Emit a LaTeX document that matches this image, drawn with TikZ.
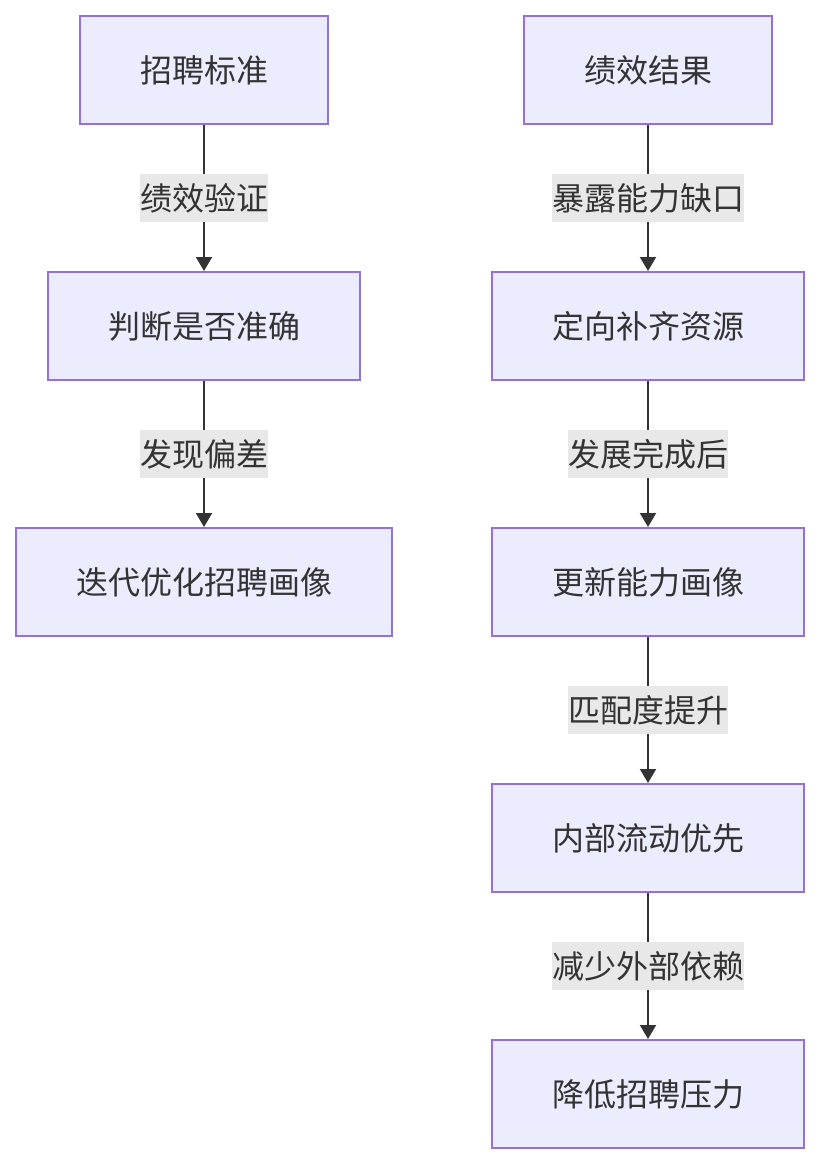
\documentclass[tikz,border=0pt]{standalone}
\usepackage{fontspec}
\setmainfont{Noto Sans CJK SC}
\usetikzlibrary{arrows.meta}
\definecolor{nodefill}{HTML}{ECECFF}
\definecolor{nodestroke}{HTML}{9370DB}
\definecolor{txt}{HTML}{333333}
\definecolor{lblbg}{HTML}{E8E8E8}
\begin{document}
\begin{tikzpicture}[x=1pt,y=-1pt,
  box/.style={draw=nodestroke,fill=nodefill,line width=2pt,text=txt,font=\fontsize{32}{38}\selectfont,minimum height=108pt,inner sep=0pt,anchor=center},
  edge/.style={draw=txt,line width=2pt,-{Triangle[width=16pt,length=14pt]}},
  lbl/.style={fill=lblbg,text=txt,font=\fontsize{32}{38}\selectfont,inner xsep=0pt,inner ysep=0pt,minimum height=48pt}]
\useasboundingbox (0,0) rectangle (820,1164);
% left column
\node[box,minimum width=248pt] (a1) at (204,70) {招聘标准};
\node[box,minimum width=312pt] (a2) at (204,326) {判断是否准确};
\node[box,minimum width=376pt] (a3) at (204,582) {迭代优化招聘画像};
% right column
\node[box,minimum width=248pt] (b1) at (648,70) {绩效结果};
\node[box,minimum width=312pt] (b2) at (648,326) {定向补齐资源};
\node[box,minimum width=312pt] (b3) at (648,582) {更新能力画像};
\node[box,minimum width=312pt] (b4) at (648,838) {内部流动优先};
\node[box,minimum width=312pt] (b5) at (648,1094) {降低招聘压力};
% edges
\draw[edge] (a1) -- node[lbl] {绩效验证} (a2);
\draw[edge] (a2) -- node[lbl] {发现偏差} (a3);
\draw[edge] (b1) -- node[lbl] {暴露能力缺口} (b2);
\draw[edge] (b2) -- node[lbl] {发展完成后} (b3);
\draw[edge] (b3) -- node[lbl] {匹配度提升} (b4);
\draw[edge] (b4) -- node[lbl] {减少外部依赖} (b5);
\end{tikzpicture}
\end{document}
